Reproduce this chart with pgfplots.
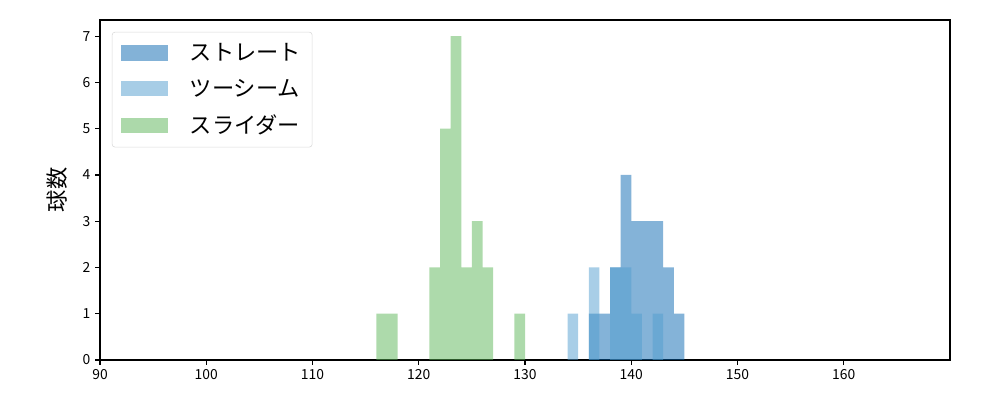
\documentclass[border=0pt]{standalone}
\usepackage{pgfplots}
\pgfplotsset{compat=1.18}
\usepackage{fontspec}
\setmainfont{Noto Sans CJK JP}
\definecolor{cstr}{RGB}{9,103,177}
\definecolor{ctwo}{RGB}{81,157,207}
\definecolor{csl}{RGB}{91,181,87}
\pgfplotsset{legimg/.style={legend image code/.code={\fill[##1, sharp corners] (0pt,-5.5pt) rectangle (34pt,5.5pt);}}}
\begin{document}
\begin{tikzpicture}
\useasboundingbox (0,0) rectangle (720pt,288pt);
\begin{axis}[
  at={(72pt,28.8pt)}, anchor=south west,
  scale only axis, width=612pt, height=244.8pt,
  xmin=90, xmax=170, ymin=0, ymax=7.35,
  xtick={90,100,...,160}, ytick={0,1,...,7},
  tick align=outside, tick pos=left,
  major tick length=3.5pt,
  every tick/.style={black, line width=0.8pt},
  axis line style={line width=0.8pt},
  /pgf/number format/assume math mode=true,
  tick label style={font=\fontsize{10}{12}\selectfont},
  ylabel={球数}, ylabel style={font=\fontsize{16}{19}\selectfont, yshift=4pt},
  legend style={at={(0.014,0.965)}, anchor=north west, draw=black!15, rounded corners=2pt,
    font=\fontsize{16}{19}\selectfont, row sep=8pt, inner xsep=6pt, inner ysep=6pt,
    /tikz/every odd column/.append style={column sep=14pt}},
  legend cell align=left,
  ybar, bar width=1, bar shift=0,
]
\addplot[draw=none, fill=cstr, fill opacity=0.5, legimg] coordinates {
(136.5,1) (137.5,1) (138.5,2) (139.5,4) (140.5,3) (141.5,3) (142.5,3) (143.5,2) (144.5,1)};
\addlegendentry{ストレート}
\addplot[draw=none, fill=ctwo, fill opacity=0.5, legimg] coordinates {
(134.5,1) (136.5,2) (138.5,2) (139.5,2) (140.5,1) (142.5,1)};
\addlegendentry{ツーシーム}
\addplot[draw=none, fill=csl, fill opacity=0.5, legimg] coordinates {
(116.5,1) (117.5,1) (121.5,2) (122.5,5) (123.5,7) (124.5,2) (125.5,3) (126.5,2) (129.5,1)};
\addlegendentry{スライダー}
\end{axis}
\end{tikzpicture}
\end{document}
